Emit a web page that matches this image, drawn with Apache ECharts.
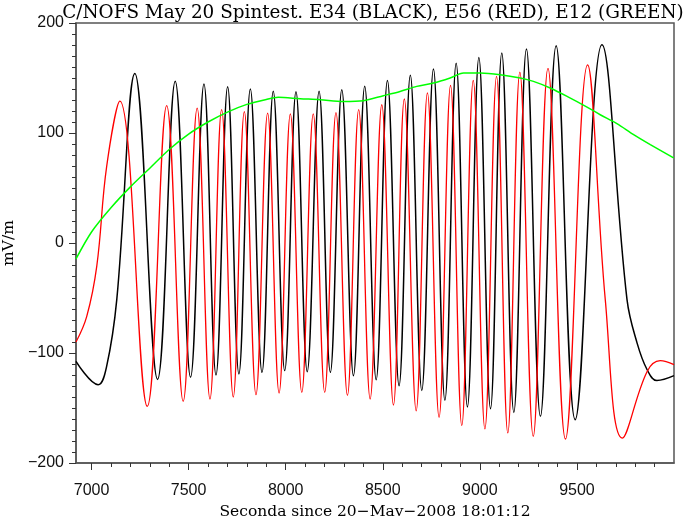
<!DOCTYPE html>
<html>
<head>
<meta charset="utf-8">
<script src="https://cdn.jsdelivr.net/npm/echarts@6/dist/echarts.min.js"></script>
<style>
  html, body { margin: 0; padding: 0; background: #fff; }
  #chart { width: 685px; height: 516px; }
</style>
</head>
<body>
<div id="chart"></div>
<script>
// E34 (black): peaks, troughs and a few slope points
const e34Time = [6920, 7034, 7078, 7130, 7223, 7340, 7431, 7510, 7579, 7641, 7701, 7759, 7818, 7878,
  7936, 7995, 8053, 8111, 8172, 8230, 8289, 8349, 8407, 8466, 8524, 8584, 8642, 8701, 8761, 8820,
  8878, 8936, 8995, 9055, 9113, 9175, 9240, 9312, 9393, 9491, 9629, 9758, 9810, 9861, 9912, 10000]
const e34Value = [-107.6, -128.8, -112, -51.5, 154, -124, 147, -122, 144.5, -120, 142, -119, 140, -117.6,
  138, -116, 137.5, -117, 138, -117.6, 139.4, -120.6, 142.4, -124.3, 147.8, -129.7, 152.4, -134, 158.2, -143,
  163.3, -149, 168.7, -150.6, 172.7, -154, 176.3, -157.6, 179.4, -160.6, 180.3, -51.5, -91, -115, -125, -120.6]

// E56 (red)
const e56Time = [6920, 6975, 7027, 7078, 7146, 7287, 7387, 7472, 7544, 7610, 7670, 7730,
  7787, 7847, 7907, 7966, 8024, 8083, 8142, 8201, 8259, 8318, 8376, 8435, 8495, 8555, 8611, 8672,
  8730, 8790, 8849, 8907, 8966, 9026, 9086, 9144, 9206, 9275, 9351, 9441, 9555, 9646, 9734, 9861, 9929, 10000]
const e56Value = [-90, -67, -21, 69.7, 129, -148.5, 124.8, -144, 122.7, -141.8, 121.2, -140,
  119.4, -137.9, 118, -136.4, 117.3, -135.8, 117.3, -135.8, 118.5, -138.5, 121.2, -141.8, 125.7, -147.3, 130.9, -152.5,
  136.4, -158.5, 143.3, -166, 147.8, -169, 151.5, -172.7, 155.4, -175.8, 158.7, -178.2, 162, -51.5, -177.3, -117, -107, -110.6]

// E12 (green)
const e12Time = [6920, 7000, 7100, 7200, 7300, 7400, 7500, 7600, 7700, 7800, 7900, 7962, 8074,
  8177, 8297, 8400, 8503, 8589, 8675, 8761, 8847, 8916, 9002, 9105, 9208, 9276, 9362, 9449, 9552,
  9620, 9706, 9792, 9878, 9998]
const e12Value = [-14.5, 10, 32, 51, 68, 85, 99, 110, 119, 126, 130.5, 132.4, 131.2,
  130.3, 128.7, 129.4, 133.9, 137.8, 142.4, 145.4, 150, 154.5, 154.5, 153, 150, 146.9, 140.9, 133.3, 123.6,
  116.6, 108.5, 98.5, 89.4, 77.3]

const xTicks = [7000, 7500, 8000, 8500, 9000, 9500]
const yTicks = [-200, -100, 0, 100, 200]

const zip = (xs, ys) => xs.map((x, i) => [x, ys[i]])

const chart = echarts.init(document.getElementById('chart'))

const serif = 'DejaVu Serif'
const sans = 'Liberation Sans'

chart.setOption({
  animation: false,
  title: {
    text: 'C/NOFS May 20 Spintest. E34 (BLACK), E56 (RED), E12 (GREEN)',
    left: 368,
    textAlign: 'center',
    top: -1,
    textStyle: { fontFamily: serif, fontWeight: 'normal', fontSize: 18.4, color: '#000' },
  },
  grid: {
    left: 76, right: 11, top: 23, bottom: 53,
    outerBoundsMode: 'none',
    show: true, borderColor: '#555', borderWidth: 1.5,
  },
  xAxis: {
    type: 'value',
    min: 6920,
    max: 10000,
    name: 'Seconda since 20\u2212May\u22122008 18:01:12',
    nameLocation: 'middle',
    nameGap: 34,
    nameTextStyle: { fontFamily: serif, fontSize: 15.5, color: '#000' },
    axisLine: { onZero: false, lineStyle: { color: '#555', width: 1.5 } },
    axisTick: { length: 7, customValues: xTicks, lineStyle: { color: '#333' } },
    minorTick: { show: true, splitNumber: 5, length: 4, lineStyle: { color: '#333' } },
    axisLabel: {
      customValues: xTicks, margin: 20, fontFamily: sans, fontSize: 16, color: '#111',
      formatter: v => String(v),
    },
    splitLine: { show: false },
  },
  yAxis: {
    type: 'value',
    min: -200,
    max: 200,
    interval: 100,
    name: 'mV/m',
    nameLocation: 'middle',
    nameGap: 57,
    nameTextStyle: { fontFamily: serif, fontSize: 15.5, color: '#000' },
    axisLine: { lineStyle: { color: '#555', width: 1.5 } },
    axisTick: { length: 7, lineStyle: { color: '#333' } },
    minorTick: { show: true, splitNumber: 10, length: 4, lineStyle: { color: '#333' } },
    axisLabel: {
      margin: 12, fontFamily: sans, fontSize: 16, color: '#111',
      formatter: v => (yTicks.includes(v) ? String(v).replace('-', '\u2212') : ''),
    },
    splitLine: { show: false },
  },
  series: [
    {
      name: 'E34', type: 'line', data: zip(e34Time, e34Value),
      showSymbol: false, smooth: 0.4, lineStyle: { color: '#000', width: 1.5 },
    },
    {
      name: 'E56', type: 'line', data: zip(e56Time, e56Value),
      showSymbol: false, smooth: 0.4, lineStyle: { color: '#ff0000', width: 1.3 },
    },
    {
      name: 'E12', type: 'line', data: zip(e12Time, e12Value),
      showSymbol: false, smooth: 0.3, lineStyle: { color: '#00ff00', width: 1.5 },
    },
  ],
})
</script>
</body>
</html>
